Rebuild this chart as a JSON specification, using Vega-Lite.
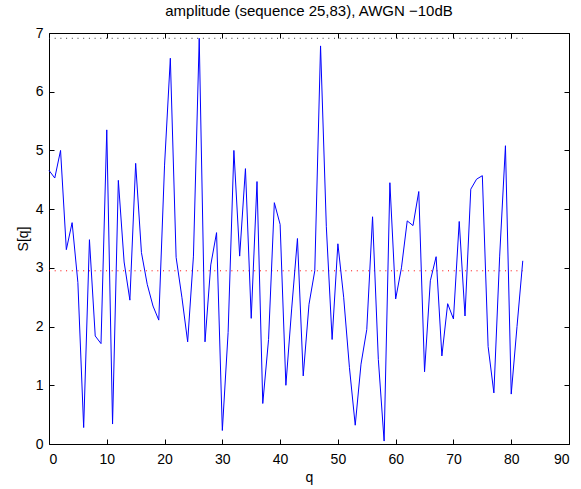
{
  "$schema": "https://vega.github.io/schema/vega-lite/v6.json",
  "width": 520,
  "height": 411,
  "autosize": "none",
  "padding": {"left": 49, "top": 33, "right": 12, "bottom": 45},
  "config": {
    "view": {"stroke": "black", "strokeWidth": 1},
    "font": "Liberation Sans",
    "axis": {"grid": false, "domain": false, "tickColor": "black", "tickSize": -5, "labelColor": "black", "labelFontSize": 14, "titleFontSize": 14, "titleFontWeight": "normal", "titleColor": "black", "labelFont": "Liberation Sans", "titleFont": "Liberation Sans"}
  },
  "title": {"text": "amplitude (sequence 25,83), AWGN −10dB", "fontSize": 15, "fontWeight": "normal", "font": "Liberation Sans", "color": "black", "anchor": "middle", "offset": 7},
  "datasets": {
    "s": [
      {"q": 0, "S": 4.66}, {"q": 1, "S": 4.53}, {"q": 2, "S": 5.0}, {"q": 3, "S": 3.31}, {"q": 4, "S": 3.77},
      {"q": 5, "S": 2.75}, {"q": 6, "S": 0.28}, {"q": 7, "S": 3.48}, {"q": 8, "S": 1.84}, {"q": 9, "S": 1.71},
      {"q": 10, "S": 5.35}, {"q": 11, "S": 0.34}, {"q": 12, "S": 4.49}, {"q": 13, "S": 3.1}, {"q": 14, "S": 2.45},
      {"q": 15, "S": 4.78}, {"q": 16, "S": 3.26}, {"q": 17, "S": 2.72}, {"q": 18, "S": 2.35}, {"q": 19, "S": 2.11},
      {"q": 20, "S": 4.75}, {"q": 21, "S": 6.57}, {"q": 22, "S": 3.18}, {"q": 23, "S": 2.5}, {"q": 24, "S": 1.74},
      {"q": 25, "S": 3.2}, {"q": 26, "S": 6.91}, {"q": 27, "S": 1.74}, {"q": 28, "S": 3.05}, {"q": 29, "S": 3.6},
      {"q": 30, "S": 0.23}, {"q": 31, "S": 1.9}, {"q": 32, "S": 5.0}, {"q": 33, "S": 3.2}, {"q": 34, "S": 4.69},
      {"q": 35, "S": 2.14}, {"q": 36, "S": 4.47}, {"q": 37, "S": 0.69}, {"q": 38, "S": 1.78}, {"q": 39, "S": 4.11},
      {"q": 40, "S": 3.74}, {"q": 41, "S": 1.0}, {"q": 42, "S": 2.3}, {"q": 43, "S": 3.5}, {"q": 44, "S": 1.16},
      {"q": 45, "S": 2.38}, {"q": 46, "S": 2.95}, {"q": 47, "S": 6.78}, {"q": 48, "S": 3.7}, {"q": 49, "S": 1.78},
      {"q": 50, "S": 3.41}, {"q": 51, "S": 2.5}, {"q": 52, "S": 1.3}, {"q": 53, "S": 0.32}, {"q": 54, "S": 1.36},
      {"q": 55, "S": 1.95}, {"q": 56, "S": 3.87}, {"q": 57, "S": 1.44}, {"q": 58, "S": 0.05}, {"q": 59, "S": 4.45},
      {"q": 60, "S": 2.47}, {"q": 61, "S": 3.0}, {"q": 62, "S": 3.8}, {"q": 63, "S": 3.72}, {"q": 64, "S": 4.3},
      {"q": 65, "S": 1.23}, {"q": 66, "S": 2.78}, {"q": 67, "S": 3.19}, {"q": 68, "S": 1.5}, {"q": 69, "S": 2.39},
      {"q": 70, "S": 2.13}, {"q": 71, "S": 3.79}, {"q": 72, "S": 2.18}, {"q": 73, "S": 4.34}, {"q": 74, "S": 4.51},
      {"q": 75, "S": 4.57}, {"q": 76, "S": 1.66}, {"q": 77, "S": 0.87}, {"q": 78, "S": 3.2}, {"q": 79, "S": 5.08},
      {"q": 80, "S": 0.85}, {"q": 81, "S": 2.0}, {"q": 82, "S": 3.12}
    ],
    "thr": [
      {"kind": "max", "level": 6.91, "q0": 0, "q1": 82},
      {"kind": "mean", "level": 2.95, "q0": 0, "q1": 82}
    ]
  },
  "layer": [
    {
      "data": {"name": "thr"},
      "transform": [{"filter": "datum.kind === 'max'"}],
      "mark": {"type": "rule", "color": "#333333", "strokeWidth": 1, "strokeDash": [1, 4.7]},
      "encoding": {
        "x": {"field": "q0", "type": "quantitative", "axis": null},
        "x2": {"field": "q1"},
        "y": {"field": "level", "type": "quantitative", "axis": null}
      }
    },
    {
      "data": {"name": "thr"},
      "transform": [{"filter": "datum.kind === 'mean'"}],
      "mark": {"type": "rule", "color": "red", "strokeWidth": 1, "strokeDash": [1, 4.7]},
      "encoding": {
        "x": {"field": "q0", "type": "quantitative", "axis": null},
        "x2": {"field": "q1"},
        "y": {"field": "level", "type": "quantitative", "axis": null}
      }
    },
    {
      "data": {"name": "s"},
      "mark": {"type": "line", "color": "#0000ff", "strokeWidth": 1},
      "encoding": {
        "x": {"field": "q", "type": "quantitative", "scale": {"domain": [0, 90], "nice": false, "zero": false},
              "axis": {"orient": "bottom", "values": [0, 10, 20, 30, 40, 50, 60, 70, 80, 90], "title": "q", "labelPadding": 13, "titlePadding": 4}},
        "y": {"field": "S", "type": "quantitative", "scale": {"domain": [0, 7], "nice": false},
              "axis": {"orient": "left", "values": [0, 1, 2, 3, 4, 5, 6, 7], "title": "S[q]", "labelPadding": 11, "titlePadding": 5}}
      }
    },
    {
      "data": {"name": "s"},
      "mark": {"type": "point", "opacity": 0},
      "encoding": {
        "x": {"field": "q", "type": "quantitative",
              "axis": {"orient": "top", "values": [0, 10, 20, 30, 40, 50, 60, 70, 80, 90], "labels": false, "title": null}},
        "y": {"field": "S", "type": "quantitative",
              "axis": {"orient": "right", "values": [0, 1, 2, 3, 4, 5, 6, 7], "labels": false, "title": null}}
      }
    }
  ],
  "resolve": {"axis": {"x": "independent", "y": "independent"}}
}
